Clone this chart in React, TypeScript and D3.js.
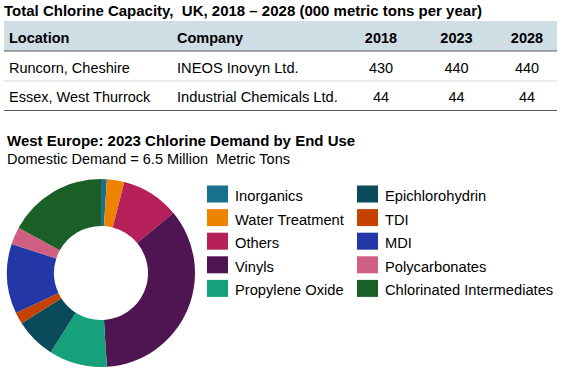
import React from "react";
import * as d3 from "d3";

const tableColumns = ["Location", "Company", "2018", "2023", "2028"];
const locations = ["Runcorn, Cheshire", "Essex, West Thurrock"];
const companies = ["INEOS Inovyn Ltd.", "Industrial Chemicals Ltd."];
const cap2018 = [430, 44];
const cap2023 = [440, 44];
const cap2028 = [440, 44];

const endUses = [
  "Inorganics",
  "Water Treatment",
  "Others",
  "Vinyls",
  "Propylene Oxide",
  "Epichlorohydrin",
  "TDI",
  "MDI",
  "Polycarbonates",
  "Chlorinated Intermediates",
];
const shares = [1, 3, 10, 35, 10, 7, 2, 12, 3, 17];
const colors = [
  "#17708e",
  "#ee8300",
  "#b5205a",
  "#4f1552",
  "#16a07c",
  "#0b4a5a",
  "#c64200",
  "#2337a6",
  "#d06082",
  "#1a5f26",
];

const W = 580;
const H = 376;
const FONT = "'Liberation Sans', Arial, sans-serif";

export default function App() {
  const cx = 101;
  const cy = 273;
  const outerR = 94;
  const innerR = 47;

  const pie = d3.pie<number>().sort(null).value((d) => d)(shares);
  const arc = d3.arc<d3.PieArcDatum<number>>().innerRadius(innerR).outerRadius(outerR);

  const rowsY = [73, 102];
  const colX = [9, 177];
  const numCenters = [381, 456.5, 527];
  const numCols = [cap2018, cap2023, cap2028];

  const legendX = [207, 357];
  const legendY0 = 185.5;
  const legendStep = 23.6;

  return (
    <svg
      width={W}
      height={H}
      style={{ position: "absolute", left: 0, top: 0, display: "block" }}
      fontFamily={FONT}
    >
      <rect width={W} height={H} fill="#ffffff" />
      <text x={4} y={16} fontSize={15} fontWeight="bold" fill="#000">
        {"Total Chlorine Capacity,\u00A0 UK, 2018 – 2028 (000 metric tons per year)"}
      </text>
      <rect x={4} y={21} width={553} height={30} fill="#cfdde4" />
      <line x1={4} x2={557} y1={51} y2={51} stroke="#595959" strokeWidth={1.2} />
      {tableColumns.map((c, i) =>
        i < 2 ? (
          <text key={c} x={colX[i]} y={43} fontSize={14.5} fontWeight="bold" fill="#000">
            {c}
          </text>
        ) : (
          <text key={c} x={numCenters[i - 2]} y={43} fontSize={14.5} fontWeight="bold" textAnchor="middle" fill="#000">
            {c}
          </text>
        )
      )}
      {locations.map((loc, r) => (
        <g key={loc}>
          <text x={colX[0]} y={rowsY[r]} fontSize={14.5} fill="#000">
            {loc}
          </text>
          <text x={colX[1]} y={rowsY[r]} fontSize={14.7} fill="#000">
            {companies[r]}
          </text>
          {numCols.map((col, j) => (
            <text key={j} x={numCenters[j]} y={rowsY[r]} fontSize={14.5} textAnchor="middle" fill="#000">
              {col[r]}
            </text>
          ))}
        </g>
      ))}
      <line x1={4} x2={557} y1={81} y2={81} stroke="#d9d9d9" strokeWidth={1} />
      <line x1={4} x2={557} y1={110.5} y2={110.5} stroke="#595959" strokeWidth={1.2} />

      <text x={7} y={146} fontSize={15} fontWeight="bold" fill="#000">
        West Europe: 2023 Chlorine Demand by End Use
      </text>
      <text x={7} y={164} fontSize={14.5} fill="#000">
        {"Domestic Demand = 6.5 Million\u00A0 Metric Tons"}
      </text>

      <g transform={`translate(${cx},${cy})`}>
        {pie.map((p, i) => (
          <path key={endUses[i]} d={arc(p) || ""} fill={colors[i]} />
        ))}
      </g>

      {endUses.map((name, i) => {
        const col = i < 5 ? 0 : 1;
        const row = i % 5;
        const y = legendY0 + row * legendStep;
        return (
          <g key={name}>
            <rect x={legendX[col]} y={y} width={21} height={17} fill={colors[i]} />
            <text x={legendX[col] + 28} y={y + 15.5} fontSize={14.7} fill="#000">
              {name}
            </text>
          </g>
        );
      })}
    </svg>
  );
}
